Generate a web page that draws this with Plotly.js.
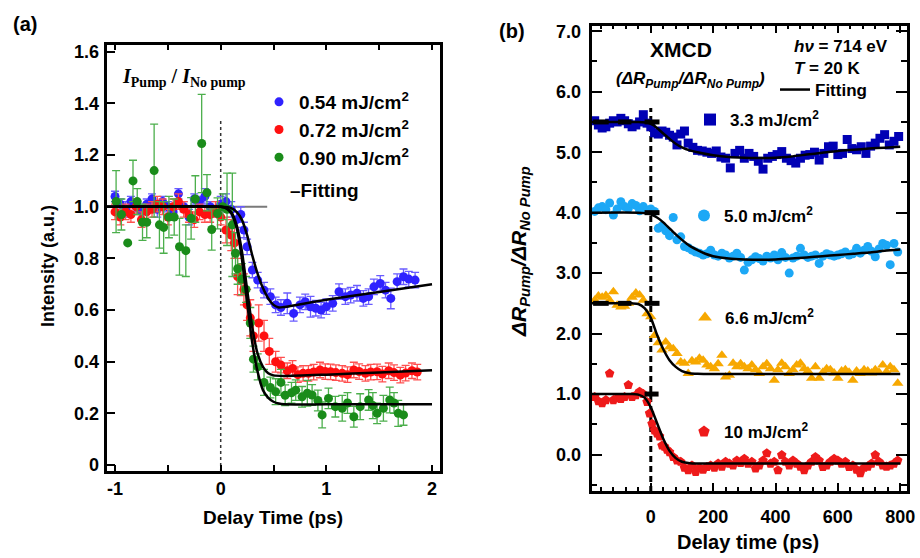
<!DOCTYPE html>
<html><head><meta charset="utf-8">
<script src="https://cdn.plot.ly/plotly-3.0.1.min.js"></script>
<style>
html,body{margin:0;padding:0;background:#fff}
#wrap{position:relative;width:920px;height:558px}
#plot{position:absolute;left:0;top:0;width:920px;height:558px}
#frames{position:absolute;left:0;top:0;width:920px;height:558px;pointer-events:none;z-index:10}
#frames div{position:absolute;background:#000}
#frames div.box{background:transparent;border:3px solid #000;box-sizing:border-box}
</style>
</head><body><div id="wrap"><div id="plot"></div><div id="frames"></div></div>
<script>
// ---------- Panel (a) data ----------
const aTickVals = [-1,-0.5,0,0.5,1,1.5,2];
const aTickText = ['-1','','0','','1','','2'];
const aYTickVals = [0,0.2,0.4,0.6,0.8,1.0,1.2,1.4,1.6];
const aYTickText = ['0','0.2','0.4','0.6','0.8','1.0','1.2','1.4','1.6'];
const rangeAX = [-1.095, 2.085];
const rangeAY = [-0.027, 1.634];

const blueT = [-1.0,-0.95,-0.9,-0.85,-0.8,-0.75,-0.7,-0.65,-0.6,-0.55,-0.5,-0.45,-0.4,-0.35,-0.3,-0.25,-0.2,-0.15,-0.1,-0.05,0.0,0.05,0.1,0.15,0.19,0.22,0.25,0.3,0.35,0.41,0.47,0.52,0.57,0.63,0.69,0.75,0.8,0.85,0.9,0.95,1.0,1.06,1.12,1.18,1.23,1.29,1.35,1.4,1.45,1.51,1.56,1.61,1.67,1.73,1.78,1.84];
const blueV = [1.04,1.01,0.99,1.02,1.0,0.98,1.01,1.03,0.99,1.02,1.0,0.98,1.05,1.0,0.96,1.03,1.02,1.04,1.0,0.98,1.01,1.02,0.99,0.95,0.97,0.91,0.845,0.755,0.716,0.677,0.652,0.62,0.61,0.626,0.587,0.62,0.632,0.613,0.607,0.60,0.613,0.626,0.671,0.652,0.658,0.665,0.645,0.652,0.69,0.703,0.677,0.645,0.71,0.729,0.72,0.716];
const blueE = [0.02,0.02,0.03,0.02,0.02,0.03,0.02,0.02,0.03,0.02,0.02,0.03,0.02,0.02,0.03,0.02,0.02,0.03,0.02,0.02,0.03,0.03,0.03,0.03,0.03,0.03,0.03,0.03,0.03,0.03,0.03,0.03,0.03,0.04,0.03,0.03,0.03,0.04,0.03,0.03,0.03,0.03,0.03,0.03,0.03,0.03,0.03,0.03,0.03,0.03,0.03,0.04,0.03,0.03,0.03,0.03];

const redT = [-1.0,-0.95,-0.9,-0.85,-0.8,-0.75,-0.7,-0.65,-0.6,-0.55,-0.5,-0.45,-0.4,-0.35,-0.3,-0.25,-0.2,-0.15,-0.1,-0.05,0.0,0.05,0.1,0.13,0.16,0.19,0.22,0.25,0.28,0.31,0.36,0.41,0.46,0.52,0.57,0.63,0.68,0.73,0.78,0.83,0.88,0.94,0.99,1.04,1.09,1.15,1.2,1.26,1.31,1.37,1.42,1.48,1.53,1.59,1.64,1.7,1.75,1.81,1.86];
const redV = [0.98,0.96,0.98,0.97,1.0,0.95,0.98,0.99,1.01,1.0,0.96,1.0,1.02,0.99,0.97,0.95,0.98,0.97,0.97,0.99,0.96,0.91,0.89,0.86,0.73,0.716,0.68,0.62,0.57,0.50,0.55,0.50,0.44,0.40,0.387,0.365,0.374,0.35,0.355,0.355,0.36,0.368,0.362,0.361,0.358,0.355,0.35,0.368,0.362,0.355,0.36,0.361,0.352,0.365,0.358,0.348,0.356,0.365,0.36];
const redE = [0.03,0.03,0.03,0.03,0.03,0.03,0.03,0.03,0.03,0.03,0.03,0.03,0.03,0.03,0.03,0.03,0.03,0.03,0.03,0.03,0.03,0.05,0.06,0.06,0.07,0.06,0.06,0.06,0.07,0.06,0.07,0.06,0.05,0.04,0.03,0.03,0.03,0.03,0.03,0.03,0.03,0.03,0.03,0.03,0.03,0.03,0.03,0.03,0.03,0.03,0.03,0.03,0.03,0.03,0.03,0.03,0.03,0.03,0.03];

const greenT = [-0.99,-0.94,-0.88,-0.83,-0.79,-0.74,-0.70,-0.63,-0.58,-0.54,-0.49,-0.44,-0.39,-0.33,-0.28,-0.24,-0.18,-0.13,-0.085,-0.03,0.02,0.06,0.11,0.14,0.16,0.20,0.24,0.28,0.31,0.35,0.41,0.47,0.52,0.57,0.61,0.67,0.71,0.77,0.82,0.865,0.92,0.96,1.02,1.085,1.15,1.20,1.26,1.32,1.40,1.44,1.48,1.54,1.60,1.64,1.68,1.73];
const greenV = [1.02,0.97,0.86,1.10,1.02,0.94,0.94,1.14,0.93,0.92,0.96,0.96,0.845,0.83,0.955,1.03,1.245,1.054,0.912,0.974,1.0,0.99,0.93,0.82,0.76,0.72,0.68,0.55,0.41,0.38,0.32,0.30,0.284,0.32,0.27,0.28,0.29,0.264,0.278,0.271,0.25,0.194,0.258,0.226,0.22,0.24,0.187,0.226,0.252,0.23,0.2,0.22,0.252,0.24,0.2,0.194];
const greenE = [0.12,0.06,0.0,0.08,0.05,0.07,0.06,0.18,0.09,0.10,0.08,0.07,0.11,0.10,0.08,0.09,0.19,0.07,0.08,0.06,0.05,0.14,0.20,0.08,0.06,0.06,0.05,0.06,0.05,0.05,0.05,0.04,0.05,0.05,0.04,0.04,0.04,0.04,0.05,0.04,0.04,0.05,0.04,0.04,0.05,0.04,0.04,0.05,0.04,0.05,0.04,0.05,0.05,0.04,0.05,0.04];

const fitBlueT = [-1.1,0.0,0.1,0.15,0.2,0.25,0.3,0.35,0.4,0.45,0.5,0.55,0.6,1.0,1.5,2.0];
const fitBlueV = [1.0,1.0,0.995,0.98,0.95,0.89,0.81,0.74,0.685,0.645,0.62,0.61,0.612,0.64,0.67,0.70];
const fitRedT = [-1.1,0.0,0.05,0.1,0.15,0.2,0.25,0.3,0.35,0.4,0.45,0.5,0.6,1.0,1.5,2.0];
const fitRedV = [1.0,1.0,0.995,0.98,0.93,0.83,0.68,0.53,0.43,0.38,0.355,0.347,0.345,0.35,0.358,0.367];
const fitGreenT = [-1.1,0.0,0.05,0.1,0.15,0.2,0.25,0.3,0.35,0.4,0.45,0.5,0.55,0.6,1.0,2.0];
const fitGreenV = [1.0,1.0,0.995,0.975,0.92,0.8,0.63,0.47,0.36,0.29,0.26,0.245,0.238,0.235,0.235,0.235];

const zeroLineAT = [0, 0];
const zeroLineAV = [-0.027, 1.34];
const unityLineT = [-1.095, 0.44];
const unityLineV = [1.0, 1.0];

const aLegendNames = ['0.54 mJ/cm<sup>2</sup>','0.72 mJ/cm<sup>2</sup>','0.90 mJ/cm<sup>2</sup>'];

// ---------- Panel (b) data ----------
const bMajorX = [0,200,400,600,800];
const bMinorX = [-160,-120,-80,-40,40,80,120,160,240,280,320,360,440,480,520,560,640,680,720,760];
const bMajorY = [0,1,2,3,4,5,6,7];
const bMinorY = [-0.5,0.5,1.5,2.5,3.5,4.5,5.5,6.5];
const rangeBX = [-195, 825];
const rangeBY = [-0.62, 7.12];

const b33T = [-180,-168,-156,-144,-132,-120,-108,-96,-84,-72,-60,-48,-36,-24,-12,0,12,24,36,48,60,72,84,96,108,120,135,150,165,180,195,210,225,240,255,270,285,300,315,330,345,360,375,390,405,420,435,450,465,480,495,510,525,540,555,570,585,600,615,630,645,660,675,690,705,720,735,750,765,780,795];
const b33V = [5.52,5.45,5.40,5.42,5.48,5.52,5.50,5.56,5.52,5.47,5.42,5.45,5.50,5.62,5.48,5.42,5.32,5.30,5.35,5.33,5.28,5.25,5.12,5.30,5.35,5.15,5.08,5.03,5.02,5.00,4.98,5.02,4.92,4.90,4.74,4.98,5.03,4.90,4.98,4.93,4.85,4.72,4.90,4.93,4.96,5.01,4.90,4.86,4.82,4.90,4.95,4.96,5.00,4.87,4.98,5.09,5.10,4.96,4.98,5.21,5.06,5.04,5.09,4.98,5.10,5.15,5.23,5.29,5.12,5.18,5.26];

const b50T = [-180,-168,-156,-144,-132,-120,-108,-96,-84,-72,-60,-48,-36,-24,-12,0,12,24,36,48,60,72,84,96,108,120,132,144,156,168,180,192,204,216,228,240,252,264,276,288,300,312,324,336,348,360,372,384,396,408,420,432,444,456,468,480,492,504,516,528,540,552,564,576,588,600,612,624,636,648,660,672,684,696,708,720,732,744,756,768,780,792];
const b50V = [4.02,4.08,4.10,4.05,4.16,3.96,4.06,4.18,4.10,4.07,4.15,4.12,4.03,4.10,4.04,4.06,4.02,3.74,3.78,3.70,3.62,3.92,3.55,3.60,3.44,3.42,3.38,3.35,3.33,3.30,3.32,3.38,3.30,3.28,3.33,3.30,3.25,3.28,3.33,3.26,3.05,3.18,3.22,3.27,3.24,3.20,3.28,3.25,3.30,3.22,3.34,3.26,3.00,3.25,3.28,3.41,3.30,3.26,3.28,3.30,3.16,3.28,3.32,3.30,3.28,3.30,3.32,3.35,3.30,3.32,3.41,3.33,3.38,3.44,3.36,3.27,3.40,3.49,3.46,3.14,3.49,3.35];

const b66T = [-180,-168,-156,-144,-132,-120,-108,-96,-84,-72,-60,-48,-36,-24,-12,0,12,24,36,48,60,72,84,96,108,120,132,144,156,168,180,192,204,216,228,240,252,264,276,288,300,312,324,336,348,360,372,384,396,408,420,432,444,456,468,480,492,504,516,528,540,552,564,576,588,600,612,624,636,648,660,672,684,696,708,720,732,744,756,768,780,792];
const b66V = [2.55,2.62,2.60,2.63,2.55,2.69,2.47,2.44,2.45,2.50,2.60,2.67,2.64,2.55,2.33,2.28,1.97,1.85,1.73,1.86,1.78,1.75,1.67,1.53,1.51,1.34,1.55,1.53,1.59,1.56,1.48,1.45,1.42,1.50,1.64,1.28,1.31,1.51,1.45,1.50,1.45,1.42,1.48,1.40,1.34,1.45,1.50,1.42,1.23,1.40,1.51,1.45,1.34,1.40,1.48,1.51,1.42,1.38,1.26,1.45,1.26,1.36,1.42,1.40,1.35,1.26,1.38,1.40,1.36,1.23,1.38,1.34,1.40,1.38,1.35,1.40,1.36,1.48,1.37,1.45,1.40,1.18];

const b10T = [-180,-168,-156,-144,-132,-120,-108,-96,-84,-72,-60,-48,-36,-24,-12,-4,4,12,20,28,36,44,52,60,72,84,96,108,120,132,144,156,168,180,192,204,216,228,240,252,264,276,288,300,312,324,336,348,360,372,384,396,408,420,432,444,456,468,480,492,504,516,528,540,552,564,576,588,600,612,624,636,648,660,672,684,696,708,720,732,744,756,768,780,792];
const b10V = [0.95,0.88,0.85,0.90,1.34,0.90,0.93,0.92,0.95,1.15,0.95,0.98,1.04,1.00,0.87,0.68,0.51,0.40,0.35,0.30,0.15,0.13,0.08,0.04,-0.04,-0.10,-0.12,-0.22,-0.26,-0.18,-0.29,-0.22,-0.25,-0.205,-0.18,-0.22,-0.15,-0.20,-0.12,-0.15,-0.18,-0.10,-0.14,-0.07,-0.15,-0.12,-0.23,-0.18,-0.10,0.02,-0.15,-0.12,-0.26,-0.01,-0.12,-0.18,-0.10,-0.15,-0.20,-0.26,-0.18,-0.12,-0.04,-0.10,-0.205,-0.18,-0.12,-0.07,-0.10,-0.15,-0.12,-0.205,-0.18,-0.25,-0.31,-0.22,-0.20,-0.15,-0.01,-0.12,-0.18,-0.20,-0.18,-0.15,-0.10];

const fit33T = [-190,-100,-40,-10,0,10,20,40,60,80,100,125,150,200,250,300,350,400,450,500,550,600,650,700,750,800];
const fit33V = [5.5,5.5,5.5,5.49,5.47,5.44,5.40,5.31,5.22,5.14,5.08,5.03,5.0,4.95,4.92,4.91,4.905,4.91,4.93,4.96,4.99,5.02,5.04,5.06,5.075,5.09];
const fit50T = [-190,-40,-10,0,20,40,60,80,100,125,150,175,200,250,300,350,400,450,500,550,600,650,700,750,800];
const fit50V = [4.0,4.0,3.99,3.97,3.92,3.84,3.74,3.64,3.55,3.45,3.38,3.32,3.28,3.24,3.225,3.22,3.225,3.24,3.26,3.28,3.30,3.32,3.34,3.37,3.39];
const fit66T = [-190,-60,-40,-20,0,20,40,60,80,100,125,150,200,400,800];
const fit66V = [2.5,2.5,2.49,2.42,2.26,1.98,1.74,1.56,1.45,1.38,1.345,1.335,1.33,1.33,1.33];
const fit10T = [-190,-60,-40,-20,0,20,40,60,80,100,125,150,200,400,800];
const fit10V = [1.0,1.0,0.99,0.94,0.78,0.52,0.26,0.06,-0.06,-0.12,-0.145,-0.15,-0.15,-0.15,-0.15];

const barT = [-185,-135,null,-105,-62,null,-20,28,null,-20,28,null,-185,-135,null,-105,-62,null,-20,28,null,-20,25];
const barV = [5.5,5.5,null,5.5,5.5,null,5.5,5.5,null,4.0,4.0,null,2.5,2.5,null,2.5,2.5,null,2.5,2.5,null,1.0,1.0];
const zeroLineBT = [0, 0];
const zeroLineBV = [-0.62, 5.73];

const bNames = ['3.3 mJ/cm<sup>2</sup>','5.0 mJ/cm<sup>2</sup>','6.6 mJ/cm<sup>2</sup>','10 mJ/cm<sup>2</sup>','Fitting'];

// ---------- helpers ----------
const W = 920, H = 558;
const px = v => v / W;
const py = v => 1 - v / H;
const FF = 'Liberation Sans, Arial, sans-serif';

const boxA = {l: 105, r: 441, t: 43, b: 472};
const boxB = {l: 590, r: 908, t: 24, b: 492};

// ---- plot frames and inward ticks (linear axis scale, same ranges/domains as the Plotly axes) ----
(function drawFrames() {
  const host = document.getElementById('frames');
  function add(cls, l, t, w, h) {
    const d = document.createElement('div');
    if (cls) d.className = cls;
    d.style.left = l + 'px'; d.style.top = t + 'px'; d.style.width = w + 'px'; d.style.height = h + 'px';
    host.appendChild(d);
  }
  function panel(box, rx, ry, xSets, ySets) {
    add('box', box.l - 1.5, box.t - 1.5, box.r - box.l + 3, box.b - box.t + 3);
    const sx = v => box.l + (v - rx[0]) / (rx[1] - rx[0]) * (box.r - box.l);
    const sy = v => box.b - (v - ry[0]) / (ry[1] - ry[0]) * (box.b - box.t);
    xSets.forEach(s => s.vals.forEach(v => {
      const x = sx(v);
      add('', x - 1, box.b - s.len, 2, s.len);
      if (s.top) add('', x - 1, box.t, 2, s.len);
    }));
    ySets.forEach(s => s.vals.forEach(v => {
      const y = sy(v);
      add('', box.l, y - 1, s.len, 2);
      if (s.right) add('', box.r - s.len, y - 1, s.len, 2);
    }));
  }
  panel(boxA, rangeAX, rangeAY, [{vals: aTickVals, len: 7, top: true}], [{vals: aYTickVals, len: 10, right: false}]);
  panel(boxB, rangeBX, rangeBY,
    [{vals: bMajorX, len: 9, top: true}, {vals: bMinorX, len: 5, top: true}],
    [{vals: bMajorY, len: 12, right: true}, {vals: bMinorY, len: 7, right: true}]);
})();

const cBlue = '#2f22ff', cRed = '#ff1010', cGreen = '#1a8c1a';
const eBlue = '#6a5cff', eRed = '#ff5050', eGreen = '#4caf4c';

function errTrace(t, v, e, col, ecol, name) {
  return {x: t, y: v, type: 'scatter', mode: 'markers', name: name, legend: 'legend',
    marker: {color: col, size: 9},
    error_y: {type: 'data', array: e, visible: true, color: ecol, thickness: 1.3, width: 4},
    xaxis: 'x', yaxis: 'y', showlegend: true};
}
function fitTrace(t, v, xa, ya) {
  return {x: t, y: v, type: 'scatter', mode: 'lines', line: {color: '#000', width: 2.5, shape: 'spline', smoothing: 0.6},
    xaxis: xa, yaxis: ya, showlegend: false, hoverinfo: 'skip'};
}
function refLine(t, v, xa, ya, line) {
  return {x: t, y: v, type: 'scatter', mode: 'lines', line: line, xaxis: xa, yaxis: ya, showlegend: false, hoverinfo: 'skip'};
}

const traces = [
  refLine(unityLineT, unityLineV, 'x', 'y', {color: '#7a7a7a', width: 2}),
  refLine(zeroLineAT, zeroLineAV, 'x', 'y', {color: '#333', width: 1.5, dash: 'dot'}),
  errTrace(blueT, blueV, blueE, cBlue, eBlue, aLegendNames[0]),
  errTrace(redT, redV, redE, cRed, eRed, aLegendNames[1]),
  errTrace(greenT, greenV, greenE, cGreen, eGreen, aLegendNames[2]),
  fitTrace(fitBlueT, fitBlueV, 'x', 'y'),
  fitTrace(fitRedT, fitRedV, 'x', 'y'),
  fitTrace(fitGreenT, fitGreenV, 'x', 'y'),
  refLine(zeroLineBT, zeroLineBV, 'x2', 'y2', {color: '#000', width: 3, dash: '6px,4px'}),
  {x: b33T, y: b33V, type: 'scatter', mode: 'markers', name: bNames[0], legend: 'legend2',
   marker: {symbol: 'square', color: '#0000b4', size: 9}, xaxis: 'x2', yaxis: 'y2'},
  {x: b50T, y: b50V, type: 'scatter', mode: 'markers', name: bNames[1], legend: 'legend3',
   marker: {symbol: 'circle', color: '#1ca8f6', size: 9}, xaxis: 'x2', yaxis: 'y2'},
  {x: b66T, y: b66V, type: 'scatter', mode: 'markers', name: bNames[2], legend: 'legend4',
   marker: {symbol: 'triangle-up', color: '#f7a800', size: 10}, xaxis: 'x2', yaxis: 'y2'},
  {x: b10T, y: b10V, type: 'scatter', mode: 'markers', name: bNames[3], legend: 'legend5',
   marker: {symbol: 'pentagon', color: '#ee1a1a', size: 10}, xaxis: 'x2', yaxis: 'y2'},
  Object.assign(fitTrace(fit33T, fit33V, 'x2', 'y2'), {showlegend: true, name: bNames[4], legend: 'legend6'}),
  fitTrace(fit50T, fit50V, 'x2', 'y2'),
  fitTrace(fit66T, fit66V, 'x2', 'y2'),
  fitTrace(fit10T, fit10V, 'x2', 'y2'),
  refLine(barT, barV, 'x2', 'y2', {color: '#000', width: 5})
];

function leg(xp, yp, size, extra) {
  return Object.assign({x: px(xp), y: py(yp), xanchor: 'left', yanchor: 'middle', bgcolor: 'rgba(0,0,0,0)',
    borderwidth: 0, font: {family: FF, size: size, weight: 700, color: '#000'}}, extra || {});
}

const annotations = [
  {text: '<b>(a)</b>', x: px(25), y: py(24), font: {family: FF, size: 20}},
  {text: '<b>(b)</b>', x: px(512), y: py(31), font: {family: FF, size: 20}},
  {text: '<b><i>I</i><sub>Pump</sub> / <i>I</i><sub>No pump</sub></b>', x: px(184), y: py(77),
   font: {family: 'Liberation Serif, Times New Roman, serif', size: 20}},
  {text: '<b>\u2013Fitting</b>', x: px(288), y: py(190), xanchor: 'left', font: {family: FF, size: 19}},
  {text: '<b>XMCD</b>', x: px(681), y: py(50), font: {family: FF, size: 21}},
  {text: '<b><i>(\u0394R<sub>Pump</sub>/\u0394R<sub>No Pump</sub>)</i></b>', x: px(690), y: py(80), font: {family: FF, size: 17}},
  {text: '<b><i>h\u03bd</i> = 714 eV</b>', x: px(792), y: py(46), xanchor: 'left', font: {family: FF, size: 17}},
  {text: '<b><i>T</i> = 20 K</b>', x: px(792), y: py(68), xanchor: 'left', font: {family: FF, size: 17}},
  {text: '<b>Intensity (a.u.)</b>', x: px(48), y: py(266), textangle: -90, font: {family: FF, size: 18}},
  {text: '<b><i>\u0394R<sub>Pump</sub>/\u0394R<sub>No Pump</sub></i></b>', x: px(520), y: py(252), textangle: -90, font: {family: FF, size: 21}},
  {text: '<b>Delay Time (ps)</b>', x: px(273), y: py(517), font: {family: FF, size: 19}},
  {text: '<b>Delay time (ps)</b>', x: px(748), y: py(542), font: {family: FF, size: 20}}
].map(a => Object.assign({xref: 'paper', yref: 'paper', showarrow: false, xanchor: 'center', yanchor: 'middle'}, a,
  {font: Object.assign({color: '#000'}, a.font)}));

function tf() { return {family: FF, size: 18, weight: 700, color: '#000'}; }

const layout = {
  width: W, height: H, margin: {l: 0, r: 0, t: 0, b: 0},
  paper_bgcolor: '#fff', plot_bgcolor: '#fff',
  font: {family: FF, color: '#000'},
  showlegend: true,
  xaxis: {domain: [px(boxA.l), px(boxA.r)], range: rangeAX.slice(), anchor: 'y',
    showgrid: false, zeroline: false, showline: false, ticks: '', tickfont: tf(), ticklabelstandoff: 4,
    tickmode: 'array', tickvals: aTickVals, ticktext: aTickText},
  yaxis: {domain: [py(boxA.b), py(boxA.t)], range: rangeAY.slice(), anchor: 'x',
    showgrid: false, zeroline: false, showline: false, ticks: '', tickfont: tf(), ticklabelstandoff: 5,
    tickmode: 'array', tickvals: aYTickVals, ticktext: aYTickText},
  xaxis2: {domain: [px(boxB.l), px(boxB.r)], range: rangeBX.slice(), anchor: 'y2',
    showgrid: false, zeroline: false, showline: false, ticks: '', tickfont: tf(), ticklabelstandoff: 12,
    tickmode: 'array', tickvals: bMajorX},
  yaxis2: {domain: [py(boxB.b), py(boxB.t)], range: rangeBY.slice(), anchor: 'x2',
    showgrid: false, zeroline: false, showline: false, ticks: '', tickfont: tf(), ticklabelstandoff: 8,
    tickmode: 'array', tickvals: bMajorY, tickformat: '.1f'},
  legend: leg(259, 130, 19, {tracegroupgap: 0}),
  legend2: leg(690, 120, 17, {itemsizing: 'constant'}),
  legend3: leg(684, 216, 17, {itemsizing: 'constant'}),
  legend4: leg(685, 318, 17, {itemsizing: 'constant'}),
  legend5: leg(684, 432, 17, {itemsizing: 'constant'}),
  legend6: leg(775, 90, 17),
  annotations: annotations
};

Plotly.newPlot('plot', traces, layout, {staticPlot: true, displayModeBar: false});
</script></body></html>
